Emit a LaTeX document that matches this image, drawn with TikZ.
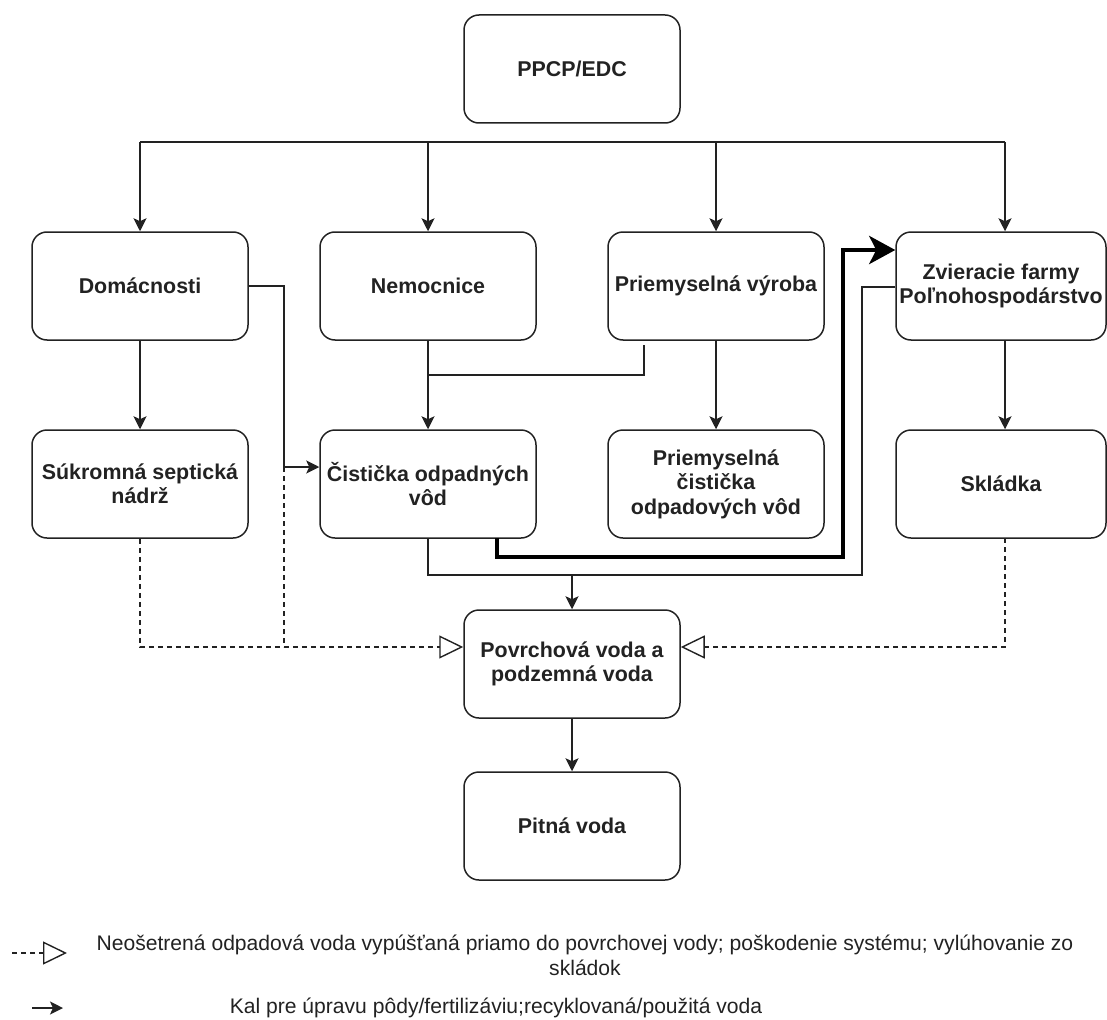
\documentclass[tikz,border=0pt]{standalone}
\usepackage{fontspec}
\setmainfont{Liberation Sans}
\usetikzlibrary{arrows.meta}
\definecolor{ink}{HTML}{222222}
\tikzset{
  box/.style={draw=ink, line width=1.5pt, rounded corners=15pt, minimum width=216pt, minimum height=108pt,
    inner sep=0pt, align=center, text=ink, font=\bfseries\fontsize{21.4}{24.5}\selectfont},
  conn/.style={draw=ink, line width=1.5pt},
  arr/.style={conn, -{Stealth[length=13pt,width=13pt,inset=3pt]}},
  dsh/.style={conn, line width=1.4pt, dash pattern=on 5pt off 4pt},
  opentip/.style={-{Triangle[open,length=24pt,width=23pt,line width=1.4pt]}},
  thick arr/.style={draw=black, line width=4.5pt, -{Stealth[length=26pt,width=28pt,inset=7pt]}},
  legend/.style={text=ink, align=center, inner sep=0pt, font=\fontsize{21.1}{25}\selectfont}
}
\begin{document}
\begin{tikzpicture}[x=1pt,y=-1pt]
\useasboundingbox (0,0) rectangle (1107,1019);

% nodes
\node[box] (ppcp) at (572,69) {PPCP/EDC};
\node[box] (dom) at (140,286) {Domácnosti};
\node[box] (nem) at (428,286) {Nemocnice};
\node[box] (priem) at (716,286) {Priemyselná výroba};
\node[box, minimum width=210pt] (zvier) at (1001,286) {Zvieracie farmy\\Poľnohospodárstvo};
\node[box] (sep) at (140,484) {Súkromná septická\\nádrž};
\node[box] (cist) at (428,484) {Čistička odpadných\\vôd};
\node[box] (pcist) at (716,484) {Priemyselná\\čistička\\odpadových vôd};
\node[box, minimum width=210pt] (skl) at (1001,484) {Skládka};
\node[box] (povrch) at (572,664) {Povrchová voda a\\podzemná voda};
\node[box] (pitna) at (572,826) {Pitná voda};

% helper coordinates
\coordinate (busL) at (140,142);
\coordinate (busB) at (428,142);
\coordinate (busC) at (716,142);
\coordinate (busR) at (1005,142);
\coordinate (domj) at (284,286);
\coordinate (domk) at (284,467);
\coordinate (pj1) at (644,345);
\coordinate (pj2) at (644,375);
\coordinate (nj) at (428,375);
\coordinate (cj) at (428,575);
\coordinate (mj) at (572,575);
\coordinate (zj1) at (862,287);
\coordinate (zj2) at (862,575);
\coordinate (t1) at (497,538);
\coordinate (t2) at (497,557);
\coordinate (t3) at (843,557);
\coordinate (t4) at (843,250);
\coordinate (dy) at (0,647);
\coordinate (skb) at (1005,538);
\coordinate (skd) at (1005,647);
\coordinate (sepd) at (140,647);
\coordinate (domd) at (284,647);

% top bus
\draw[conn] (busL) -- (busR);
\draw[arr] (busL) -- (dom.north);
\draw[arr] (busB) -- (nem.north);
\draw[arr] (busC) -- (priem.north);
\draw[arr] (busR) -- (busR |- zvier.north);

% row 1 -> row 2
\draw[arr] (dom.south) -- (sep.north);
\draw[arr] (dom.east |- domj) -- (domj) -- (domk) -- (cist.west |- domk);
\draw[arr] (nem.south) -- (cist.north);
\draw[conn] (pj1) -- (pj2) -- (nj);
\draw[arr] (priem.south) -- (pcist.north);
\draw[arr] (busR |- zvier.south) -- (busR |- skl.north);

% to surface water
\draw[conn] (cist.south -| cj) -- (cj) -- (mj);
\draw[conn] (zvier.west |- zj1) -- (zj1) -- (zj2) -- (mj);
\draw[arr] (mj) -- (povrch.north);

% thick sludge arrow
\draw[thick arr] (t1) -- (t2) -- (t3) -- (t4) -- (zvier.west |- t4);

% dashed leaks
\draw[dsh, opentip] (sep.south) -- (sepd) -- (povrch.west |- dy);
\draw[dsh] (domk) -- (domd);
\draw[dsh, opentip] (skb) -- (skd) -- (povrch.east |- dy);

% to drinking water
\draw[arr] (povrch.south) -- (pitna.north);

% legend
\coordinate (l1a) at (12,953);
\coordinate (l1b) at (67,953);
\coordinate (l2a) at (32,1008);
\coordinate (l2b) at (63,1008);
\draw[dsh, opentip] (l1a) -- (l1b);
\draw[arr] (l2a) -- (l2b);
\node[legend] (leg1) at (585,955) {Neošetrená odpadová voda vypúšťaná priamo do povrchovej vody; poškodenie systému; vylúhovanie zo\\skládok};
\node[legend] (leg2) at (496,1008) {Kal pre úpravu pôdy/fertilizáviu;recyklovaná/použitá voda};
\end{tikzpicture}
\end{document}
